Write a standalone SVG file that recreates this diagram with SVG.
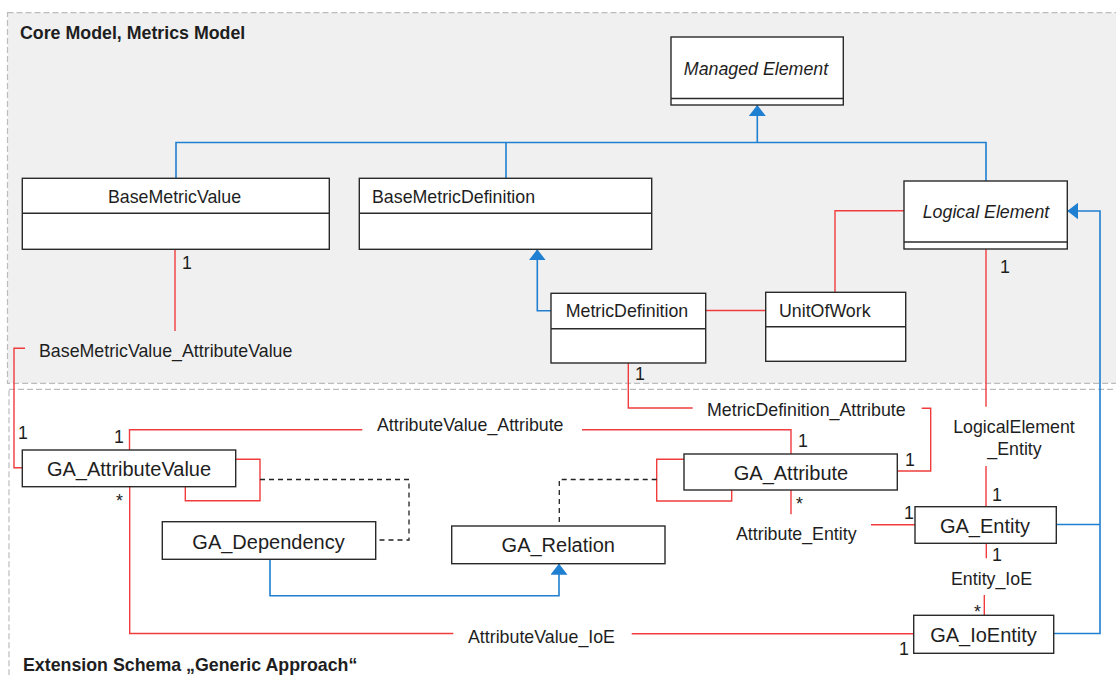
<svg xmlns="http://www.w3.org/2000/svg" width="1116" height="675" viewBox="0 0 1116 675">
  <style>
    .frame { stroke: #bcbcbc; stroke-width: 1.2; stroke-dasharray: 6 3; }
    .box { fill: #ffffff; stroke: #2a2a2a; stroke-width: 1.4; }
    .sep { stroke: #2a2a2a; stroke-width: 1.4; }
    text { font-family: "Liberation Sans", Arial, sans-serif; font-size: 17.8px; fill: #1e1e1e; }
    .ga { font-size: 20px; text-anchor: middle; }
    .mid { text-anchor: middle; }
    .it { font-style: italic; }
    .title { font-weight: bold; }
    .red { fill: none; stroke: #f03c3c; stroke-width: 1.4; }
    .blue { fill: none; stroke: #1f7fd0; stroke-width: 1.6; }
    .dash { fill: none; stroke: #222222; stroke-width: 1.3; stroke-dasharray: 5 4; }
  </style>
  <defs>
    <marker id="gen" viewBox="0 0 11 17" refX="11" refY="8.5" markerWidth="11" markerHeight="17" markerUnits="userSpaceOnUse" orient="auto">
      <path d="M0,0 L11,8.5 L0,17 Z" fill="#1f7fd0"/>
    </marker>
  </defs>

  <!-- package frames -->
  <rect class="frame" x="7.5" y="12.7" width="1130" height="370.6" fill="#f0f0f0"/>
  <rect class="frame" x="9" y="389.3" width="1130" height="300" fill="none"/>
  <text class="title" x="20" y="38.5">Core Model, Metrics Model</text>
  <text class="title" x="23" y="671">Extension Schema „Generic Approach“</text>

  <!-- connectors -->
  <g id="connectors">
    <!-- generalizations -->
    <path class="blue" d="M176,178.3 V142.5 H986 V181"/>
    <path class="blue" d="M506,178.3 V142.5"/>
    <path class="blue" d="M757.3,142.5 V105" marker-end="url(#gen)"/>
    <path class="blue" d="M551,310.7 H537.3 V249.3" marker-end="url(#gen)"/>
    <path class="blue" d="M270,559.3 V595.7 H559 V563.7" marker-end="url(#gen)"/>
    <path class="blue" d="M1056.3,524.5 H1100"/>
    <path class="blue" d="M1053.7,633.5 H1100 V211 H1067.3" marker-end="url(#gen)"/>

    <!-- associations -->
    <path class="red" d="M175,249.3 V331"/>
    <path class="red" d="M25,348.3 H14 V467.7 H22.3"/>
    <path class="red" d="M129.5,450 V429.7 H362.3"/>
    <path class="red" d="M582,429.7 H791 V454"/>
    <path class="red" d="M628.3,363 V408 H692.7"/>
    <path class="red" d="M921.7,408.3 H930.7 V471 H897.3"/>
    <path class="red" d="M705.7,310.5 H765.7"/>
    <path class="red" d="M835,292.3 V210.7 H904"/>
    <path class="red" d="M986,249 V406.7"/>
    <path class="red" d="M986,466 V506.7"/>
    <path class="red" d="M791,490 V514.3"/>
    <path class="red" d="M871,524.7 H915"/>
    <path class="red" d="M986.3,543.3 V558.3"/>
    <path class="red" d="M984.3,595 V615.3"/>
    <path class="red" d="M129.7,486.7 V633.5 H453.3"/>
    <path class="red" d="M631.7,633.7 H913.7"/>
    <path class="red" d="M235.7,459.3 H260 V500.7 H185.3 V486.7"/>
    <path class="red" d="M684,459.3 H656.7 V501 H731.7 V490"/>

    <!-- association class links -->
    <path class="dash" d="M260,479.5 H409 V540 H375.7"/>
    <path class="dash" d="M656.7,479.5 H559.3 V526"/>

    <!-- association names and multiplicities -->
    <text x="182" y="269">1</text>
    <text x="39" y="356.5">BaseMetricValue_AttributeValue</text>
    <text x="18" y="439">1</text>
    <text x="114" y="443">1</text>
    <text x="377" y="430.5">AttributeValue_Attribute</text>
    <text x="798" y="447">1</text>
    <text x="707" y="415.5">MetricDefinition_Attribute</text>
    <text x="635" y="380">1</text>
    <text x="905" y="466">1</text>
    <text x="1000" y="273">1</text>
    <text class="mid" x="1014" y="433">LogicalElement</text>
    <text class="mid" x="1014.5" y="455">_Entity</text>
    <text x="992" y="501">1</text>
    <text x="796" y="510">*</text>
    <text x="736" y="540">Attribute_Entity</text>
    <text x="904" y="519">1</text>
    <text x="992" y="561">1</text>
    <text x="951" y="585">Entity_IoE</text>
    <text x="974" y="618">*</text>
    <text x="116" y="507">*</text>
    <text x="468" y="642.5">AttributeValue_IoE</text>
    <text x="899" y="655">1</text>
  </g>

  <!-- core model classes -->
  <g id="managed-element">
    <rect class="box" x="671" y="37" width="172.3" height="68"/>
    <line class="sep" x1="671" y1="98.5" x2="843.3" y2="98.5"/>
    <text class="it mid" x="756" y="74.5">Managed Element</text>
  </g>
  <g id="base-metric-value">
    <rect class="box" x="22.3" y="178.3" width="307" height="71"/>
    <line class="sep" x1="22.3" y1="213.3" x2="329.3" y2="213.3"/>
    <text class="mid" x="174.5" y="202.7">BaseMetricValue</text>
  </g>
  <g id="base-metric-definition">
    <rect class="box" x="359.3" y="178.3" width="292.4" height="71"/>
    <line class="sep" x1="359.3" y1="213.3" x2="651.7" y2="213.3"/>
    <text x="372" y="202.7">BaseMetricDefinition</text>
  </g>
  <g id="logical-element">
    <rect class="box" x="904" y="181" width="163.3" height="68"/>
    <line class="sep" x1="904" y1="242" x2="1067.3" y2="242"/>
    <text class="it mid" x="986" y="218">Logical Element</text>
  </g>
  <g id="metric-definition">
    <rect class="box" x="551" y="293.3" width="154.7" height="69.7"/>
    <line class="sep" x1="551" y1="328.7" x2="705.7" y2="328.7"/>
    <text class="mid" x="627" y="316.7">MetricDefinition</text>
  </g>
  <g id="unit-of-work">
    <rect class="box" x="765.7" y="292.3" width="140" height="69"/>
    <line class="sep" x1="765.7" y1="326.7" x2="905.7" y2="326.7"/>
    <text x="779" y="316.5">UnitOfWork</text>
  </g>

  <!-- generic approach classes -->
  <g id="ga-attribute-value">
    <rect class="box" x="22.3" y="450" width="213.4" height="36.7"/>
    <text class="ga" x="129" y="476">GA_AttributeValue</text>
  </g>
  <g id="ga-dependency">
    <rect class="box" x="162.3" y="521.7" width="213.4" height="37.6"/>
    <text class="ga" x="268.5" y="549.3">GA_Dependency</text>
  </g>
  <g id="ga-relation">
    <rect class="box" x="451.7" y="526" width="213.3" height="37.7"/>
    <text class="ga" x="558.3" y="551.7">GA_Relation</text>
  </g>
  <g id="ga-attribute">
    <rect class="box" x="684" y="454" width="213.3" height="36"/>
    <text class="ga" x="791" y="480">GA_Attribute</text>
  </g>
  <g id="ga-entity">
    <rect class="box" x="915" y="506.7" width="141.3" height="36.6"/>
    <text class="ga" x="985" y="532.7">GA_Entity</text>
  </g>
  <g id="ga-ioentity">
    <rect class="box" x="913.7" y="615.3" width="140" height="38"/>
    <text class="ga" x="983.5" y="642">GA_IoEntity</text>
  </g>
</svg>
